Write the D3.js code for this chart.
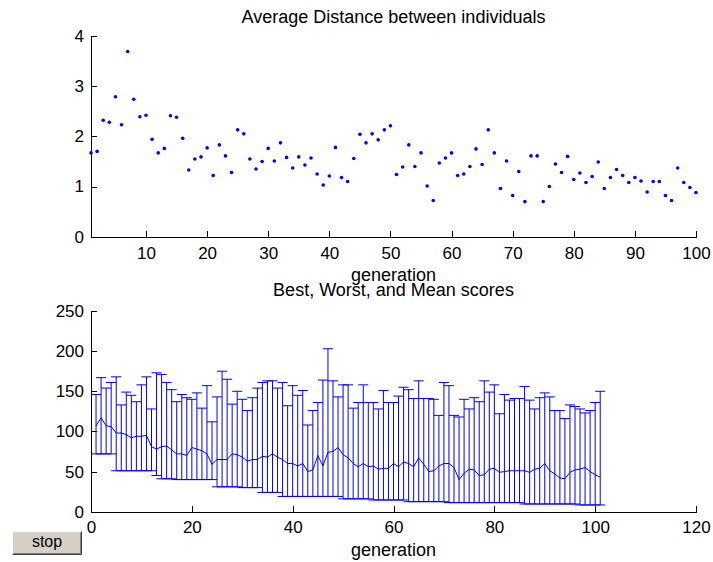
<!DOCTYPE html>
<html>
<head>
<meta charset="utf-8">
<script src="https://d3js.org/d3.v7.min.js"></script>
<style>
  body { margin: 0; background: #fff; }
  text { font-family: "Liberation Sans", Arial, Helvetica, sans-serif; fill: #000; }
  .axis path, .axis line { stroke: #000; shape-rendering: crispEdges; }
  .axis text { font-size: 17px; }
</style>
</head>
<body>
<div id="chart"></div>
<script>
// Average distance between individuals, generations 1..100
var distGenerations = d3.range(1, 101);
var avgDistance = [
  1.67, 1.70, 2.32, 2.28, 2.79, 2.23, 3.69, 2.74, 2.39, 2.42,
  1.94, 1.67, 1.76, 2.41, 2.38, 1.96, 1.33, 1.55, 1.59, 1.77,
  1.22, 1.83, 1.61, 1.28, 2.13, 2.05, 1.55, 1.35, 1.50, 1.76,
  1.51, 1.87, 1.58, 1.37, 1.59, 1.43, 1.57, 1.25, 1.03, 1.21,
  1.78, 1.18, 1.10, 1.56, 2.04, 1.87, 2.05, 1.93, 2.13, 2.21,
  1.24, 1.39, 1.83, 1.40, 1.67, 1.01, 0.72, 1.47, 1.57, 1.67,
  1.22, 1.25, 1.40, 1.75, 1.44, 2.13, 1.67, 0.96, 1.51, 0.82,
  1.30, 0.70, 1.61, 1.61, 0.70, 1.00, 1.45, 1.28, 1.60, 1.14,
  1.27, 1.08, 1.20, 1.49, 0.96, 1.18, 1.34, 1.22, 1.08, 1.18,
  1.11, 0.89, 1.10, 1.10, 0.82, 0.72, 1.37, 1.08, 0.98, 0.88
];

// Scores, generations 1..101
var scoreGenerations = d3.range(1, 102);
var worstScores = [
  146, 167, 154, 161, 168, 133, 149, 145, 137, 158,
  168, 128, 173, 171, 161, 152, 137, 146, 142, 140,
  148, 129, 157, 112, 143, 175, 165, 134, 150, 140,
  126, 142, 154, 161, 163, 163, 154, 161, 132, 157,
  145, 151, 108, 126, 136, 164, 203, 163, 143, 158,
  158, 129, 136, 158, 136, 136, 128, 151, 136, 136,
  144, 155, 152, 141, 163, 141, 141, 140, 120, 161,
  157, 120, 118, 140, 128, 142, 137, 163, 149, 158,
  122, 146, 139, 141, 141, 156, 139, 128, 142, 148,
  143, 126, 126, 116, 133, 131, 128, 123, 126, 136,
  150
];
var meanScores = [
  107, 117, 107, 106, 98, 98, 96, 92, 94, 94,
  95, 81, 78, 81, 82, 77, 72, 72, 70, 80,
  78, 76, 72, 59, 65, 65, 65, 72, 71, 68,
  63, 65, 65, 69, 68, 72, 68, 65, 60, 60,
  57, 60, 50, 52, 70, 57, 74, 75, 80, 71,
  67, 60, 56, 60, 56, 57, 53, 54, 54, 60,
  56, 62, 60, 56, 67, 59, 50, 51, 57, 60,
  60, 55, 40, 48, 53, 52, 45, 46, 53, 54,
  49, 50, 51, 51, 51, 51, 49, 53, 54, 60,
  51, 47, 42, 41, 49, 52, 53, 55, 50, 46,
  43
];
var bestScores = [
  72, 72, 72, 72, 51, 51, 51, 51, 51, 51,
  51, 51, 45, 41, 41, 41, 40, 40, 40, 40,
  40, 40, 40, 40, 31, 31, 31, 31, 31, 30,
  30, 30, 30, 24, 24, 24, 24, 19, 19, 19,
  19, 19, 19, 19, 19, 19, 19, 19, 19, 16,
  16, 16, 16, 16, 16, 14.6, 14.6, 14.6, 14.6, 14.6,
  14.6, 14.6, 12.5, 12.5, 12.5, 12.5, 12.5, 12.5, 12.5, 12.5,
  11.3, 11.3, 11.3, 11.3, 11.3, 11.3, 11.3, 11.3, 11.3, 11.3,
  11.3, 11.3, 11.3, 11.3, 11.3, 9.6, 9.6, 9.6, 9.6, 9.6,
  9.6, 9.6, 9.6, 9.6, 9.6, 9.6, 8.4, 8.4, 8.4, 8.4,
  8.4
];

var topXTicks = [10, 20, 30, 40, 50, 60, 70, 80, 90, 100];
var topYTicks = [0, 1, 2, 3, 4];
var botXTicks = [0, 20, 40, 60, 80, 100, 120];
var botYTicks = [0, 50, 100, 150, 200, 250];

var W = 713, H = 562;
var left = 91, right = 696;
var blue = "#0000ff";

var svg = d3.select("#chart").append("svg")
    .attr("width", W)
    .attr("height", H);

svg.append("rect").attr("width", W).attr("height", H).attr("fill", "#fff");

// ---------- top: average distance ----------
var x1 = d3.scaleLinear().domain([1, 100]).range([left, right]);
var y1 = d3.scaleLinear().domain([0, 4]).range([236.7, 36]);

svg.append("g")
    .attr("class", "axis")
    .attr("transform", "translate(0," + y1(0) + ")")
    .call(d3.axisBottom(x1).tickValues(topXTicks).tickSizeInner(-6).tickSizeOuter(0).tickPadding(10).tickFormat(d3.format("d")));

svg.append("g")
    .attr("class", "axis")
    .attr("transform", "translate(" + left + ",0)")
    .call(d3.axisLeft(y1).tickValues(topYTicks).tickSizeInner(-6).tickSizeOuter(0).tickPadding(7).tickFormat(d3.format("d")));

svg.append("g").selectAll("circle")
    .data(avgDistance)
  .enter().append("circle")
    .attr("cx", function(d, i) { return x1(distGenerations[i]); })
    .attr("cy", function(d) { return y1(d); })
    .attr("r", 1.8)
    .attr("fill", blue);

svg.append("text")
    .attr("x", (left + right) / 2)
    .attr("y", 23)
    .attr("text-anchor", "middle")
    .style("font-size", "18px")
    .text("Average Distance between individuals");

svg.append("text")
    .attr("x", (left + right) / 2)
    .attr("y", 281)
    .attr("text-anchor", "middle")
    .style("font-size", "18px")
    .text("generation");

// ---------- bottom: best, worst, mean ----------
var x2 = d3.scaleLinear().domain([0, 120]).range([left, right]);
var y2 = d3.scaleLinear().domain([0, 250]).range([511.7, 311]);
var tee = 1; // cap half width in generations

var bars = svg.append("g")
    .attr("fill", "none")
    .attr("stroke", blue)
    .attr("stroke-width", 1);

scoreGenerations.forEach(function(g, i) {
  var xc = x2(g);
  bars.append("line")
      .attr("x1", xc).attr("x2", xc)
      .attr("y1", y2(bestScores[i])).attr("y2", y2(worstScores[i]));
  bars.append("line")
      .attr("x1", x2(g - tee)).attr("x2", x2(g + tee))
      .attr("y1", y2(worstScores[i])).attr("y2", y2(worstScores[i]));
  bars.append("line")
      .attr("x1", x2(g - tee)).attr("x2", x2(g + tee))
      .attr("y1", y2(bestScores[i])).attr("y2", y2(bestScores[i]));
});

var meanLine = d3.line()
    .x(function(d, i) { return x2(scoreGenerations[i]); })
    .y(function(d) { return y2(d); });

svg.append("path")
    .datum(meanScores)
    .attr("d", meanLine)
    .attr("fill", "none")
    .attr("stroke", blue)
    .attr("stroke-width", 1);

svg.append("g")
    .attr("class", "axis")
    .attr("transform", "translate(0," + y2(0) + ")")
    .call(d3.axisBottom(x2).tickValues(botXTicks).tickSizeInner(-6).tickSizeOuter(0).tickPadding(9).tickFormat(d3.format("d")));

svg.append("g")
    .attr("class", "axis")
    .attr("transform", "translate(" + left + ",0)")
    .call(d3.axisLeft(y2).tickValues(botYTicks).tickSizeInner(-6).tickSizeOuter(0).tickPadding(7).tickFormat(d3.format("d")));

svg.append("text")
    .attr("x", (left + right) / 2)
    .attr("y", 296)
    .attr("text-anchor", "middle")
    .style("font-size", "18px")
    .text("Best, Worst, and Mean scores");

svg.append("text")
    .attr("x", (left + right) / 2)
    .attr("y", 556)
    .attr("text-anchor", "middle")
    .style("font-size", "18px")
    .text("generation");

// ---------- stop button ----------
var btn = svg.append("g").attr("transform", "translate(12,531)");
btn.append("rect").attr("width", 70).attr("height", 24).attr("fill", "#d4d0c8");
btn.append("path").attr("d", "M0.5,23.5V0.5H69.5").attr("fill", "none").attr("stroke", "#ffffff");
btn.append("path").attr("d", "M0.5,23.5H69.5V0.5").attr("fill", "none").attr("stroke", "#404040");
btn.append("path").attr("d", "M1.5,22.5H68.5V1.5").attr("fill", "none").attr("stroke", "#808080");
btn.append("text")
    .attr("x", 35)
    .attr("y", 16)
    .attr("text-anchor", "middle")
    .style("font-size", "16px")
    .text("stop");
</script>
</body>
</html>
